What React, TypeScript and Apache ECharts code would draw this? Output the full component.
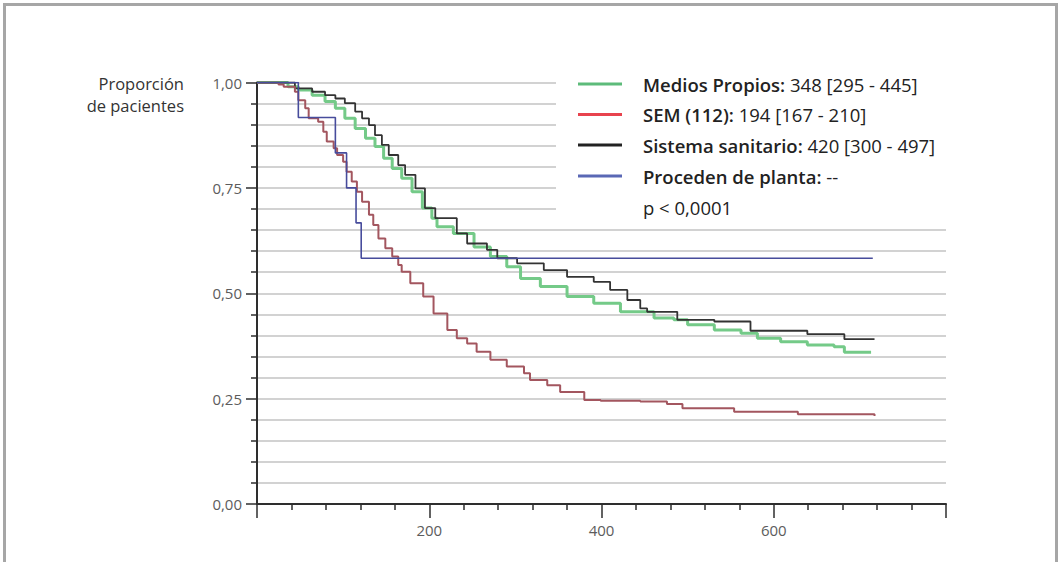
import React, { useEffect, useRef } from "react";
import * as echarts from "echarts";

// ---- Data ----
const seriesNames = ["Medios Propios", "SEM (112)", "Sistema sanitario", "Proceden de planta"];
const legendValues = [" 348 [295 - 445]", " 194 [167 - 210]", " 420 [300 - 497]", " --"];
const pValueText = "p < 0,0001";
const yAxisTitle = ["Proporción", "de pacientes"];
const xLabelValues = [200, 400, 600];

const greenT = [0, 36, 48, 64, 79, 91, 102, 114, 126, 137, 147, 157, 168, 180, 192, 203, 209, 228, 252, 271, 290, 306, 329, 360, 391, 422, 461, 484, 500, 531, 562, 581, 608, 639, 670, 682, 713];
const greenS = [1, 0.99, 0.982, 0.97, 0.955, 0.939, 0.915, 0.891, 0.868, 0.848, 0.82, 0.796, 0.773, 0.741, 0.702, 0.678, 0.658, 0.642, 0.61, 0.587, 0.563, 0.535, 0.516, 0.492, 0.476, 0.456, 0.441, 0.437, 0.425, 0.413, 0.405, 0.393, 0.385, 0.377, 0.373, 0.36, 0.36];

const redT = [0, 25, 31, 44, 48, 56, 60, 71, 77, 81, 89, 93, 100, 104, 110, 116, 122, 130, 135, 141, 149, 157, 164, 168, 178, 193, 205, 221, 232, 244, 255, 271, 290, 310, 317, 337, 352, 380, 399, 445, 476, 494, 554, 628, 717];
const redS = [1, 0.995, 0.99, 0.978, 0.958, 0.939, 0.915, 0.907, 0.883, 0.86, 0.844, 0.828, 0.812, 0.788, 0.765, 0.741, 0.717, 0.686, 0.662, 0.63, 0.607, 0.587, 0.567, 0.551, 0.524, 0.492, 0.452, 0.413, 0.393, 0.381, 0.361, 0.342, 0.326, 0.31, 0.294, 0.282, 0.266, 0.247, 0.245, 0.243, 0.237, 0.227, 0.219, 0.213, 0.209];

const blackT = [0, 44, 64, 79, 91, 102, 114, 122, 130, 137, 145, 153, 164, 172, 184, 195, 207, 232, 244, 267, 279, 302, 333, 360, 391, 410, 430, 445, 453, 488, 531, 573, 639, 682, 717];
const blackS = [1, 0.986, 0.978, 0.97, 0.962, 0.951, 0.931, 0.915, 0.899, 0.875, 0.852, 0.828, 0.804, 0.781, 0.749, 0.702, 0.678, 0.642, 0.618, 0.603, 0.583, 0.571, 0.555, 0.539, 0.527, 0.508, 0.484, 0.464, 0.456, 0.437, 0.433, 0.411, 0.403, 0.391, 0.391];

const blueT = [0, 48, 91, 104, 115, 121, 715];
const blueS = [1, 0.917, 0.833, 0.75, 0.667, 0.583, 0.583];

const zip = (t: number[], s: number[]) => t.map((v, i) => [v, s[i]]);

const curveColors = ["#74ca88", "#a3565f", "#333333", "#474c9c"];
const curveWidths = [3, 2, 1.8, 1.6];
const legendColors = ["#5dbb7a", "#e8434e", "#222222", "#5a68b5"];

const FONT = "'Open Sans', 'Noto Sans', sans-serif";

export default function App() {
  const ref = useRef<HTMLDivElement>(null);

  useEffect(() => {
    if (!ref.current) return;
    const chart = echarts.init(ref.current, undefined, { renderer: "svg" });

    const curves = [zip(greenT, greenS), zip(redT, redS), zip(blackT, blackS), zip(blueT, blueS)];
    const drawOrder = [0, 2, 1, 3];

    const rowY = [84, 114.5, 145, 176, 207];
    const legendEls: any[] = [];
    seriesNames.forEach((name, i) => {
      legendEls.push({
        type: "line",
        z: 10,
        shape: { x1: 578, y1: rowY[i], x2: 622, y2: rowY[i] },
        style: { stroke: legendColors[i], lineWidth: 3 },
      });
      legendEls.push({
        type: "text",
        z: 10,
        x: 643,
        y: rowY[i],
        style: {
          text: `{b|${name}:}${legendValues[i]}`,
          fontFamily: FONT,
          fontSize: 18.5,
          fill: "#222",
          verticalAlign: "middle",
          rich: { b: { fontFamily: FONT, fontSize: 18.5, fontWeight: 600, fill: "#222" } },
        },
      });
    });
    legendEls.push({
      type: "text",
      z: 10,
      x: 643,
      y: rowY[4],
      style: { text: pValueText, fontFamily: FONT, fontSize: 18.5, fill: "#222", verticalAlign: "middle" },
    });

    const option: any = {
      animation: false,
      backgroundColor: "#ffffff",
      grid: { left: 257, top: 82.5, right: 115, bottom: 58, containLabel: false },
      xAxis: {
        type: "value",
        min: 0,
        max: 800,
        interval: 200,
        axisLine: { show: true, lineStyle: { color: "#2e2e2e", width: 2 } },
        axisTick: { show: true, length: 14, lineStyle: { color: "#2e2e2e", width: 1.5 } },
        minorTick: { show: true, splitNumber: 5, length: 6, lineStyle: { color: "#2e2e2e", width: 1.5 } },
        splitLine: { show: false },
        minorSplitLine: { show: false },
        axisLabel: {
          margin: 18,
          color: "#5c5c5c",
          fontSize: 15,
          fontFamily: FONT,
          formatter: (v: number) => (xLabelValues.includes(v) ? String(v) : ""),
        },
      },
      yAxis: {
        type: "value",
        min: 0,
        max: 1,
        interval: 0.25,
        axisLine: { show: true, lineStyle: { color: "#2e2e2e", width: 2 } },
        axisTick: { show: true, length: 11, lineStyle: { color: "#2e2e2e", width: 1.5 } },
        minorTick: { show: true, splitNumber: 5, length: 6, lineStyle: { color: "#2e2e2e", width: 1.5 } },
        splitLine: { show: true, lineStyle: { color: "#d2d2d2", width: 2 } },
        minorSplitLine: { show: true, lineStyle: { color: "#d2d2d2", width: 2 } },
        axisLabel: {
          margin: 15,
          color: "#5c5c5c",
          fontSize: 15,
          fontFamily: FONT,
          formatter: (v: number) => v.toFixed(2).replace(".", ","),
        },
      },
      series: drawOrder.map((i) => ({
        name: seriesNames[i],
        type: "line",
        step: "end",
        symbol: "none",
        data: curves[i],
        lineStyle: { color: curveColors[i], width: curveWidths[i] },
        itemStyle: { color: curveColors[i] },
        z: 3,
      })),
      graphic: {
        elements: [
          {
            type: "rect",
            z: 0,
            shape: { x: 4.5, y: 4.5, width: 1052, height: 620 },
            style: { fill: "none", stroke: "#a6a6a6", lineWidth: 3 },
          },
          {
            type: "rect",
            z: 1,
            shape: { x: 556, y: 72, width: 400, height: 146 },
            style: { fill: "#ffffff" },
          },
          {
            type: "text",
            z: 10,
            x: 184,
            y: 83,
            style: { text: yAxisTitle[0], fontFamily: FONT, fontSize: 16.5, fill: "#333", align: "right", verticalAlign: "middle" },
          },
          {
            type: "text",
            z: 10,
            x: 184,
            y: 105,
            style: { text: yAxisTitle[1], fontFamily: FONT, fontSize: 16.5, fill: "#333", align: "right", verticalAlign: "middle" },
          },
          ...legendEls,
        ],
      },
    };

    chart.setOption(option);
    return () => chart.dispose();
  }, []);

  return (
    <div
      ref={ref}
      style={{ position: "absolute", left: 0, top: 0, width: 1061, height: 562, background: "#fff" }}
    />
  );
}
